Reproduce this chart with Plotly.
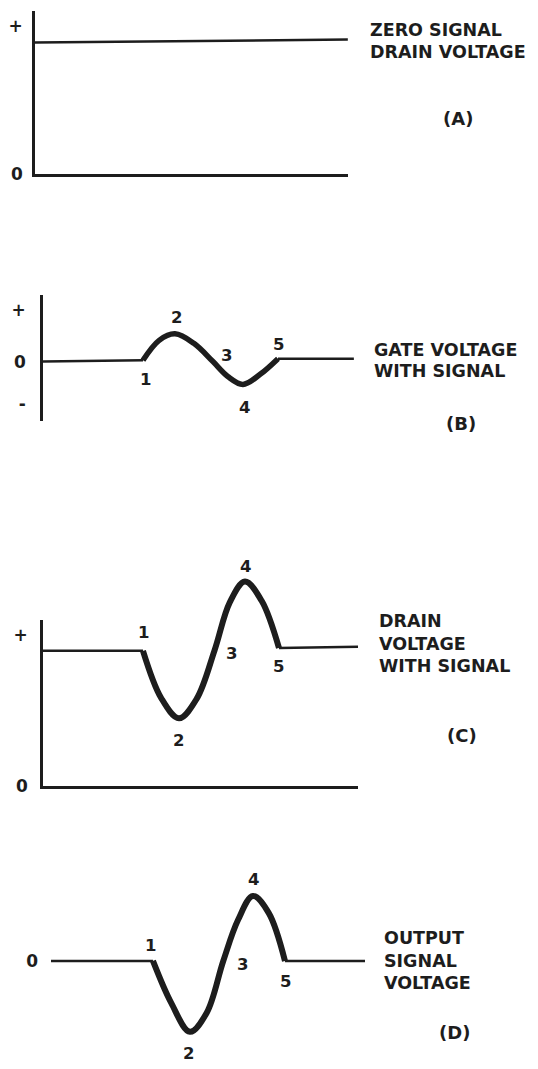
import plotly.graph_objects as go

# ---------------- data ----------------
# time in arbitrary units (0 = vertical axis), voltage in arbitrary units
# Panel A: zero-signal drain voltage
a_t = [0, 9.48]
a_drain = [9.93, 10.15]

# Panel B: gate voltage with signal (points 1, 1.5, 2, 2.5, 3, 3.5, 4, 4.5, 5)
b_in_t = [0, 3.03]
b_in_v = [0.0, 0.1]
b_sig_t = [3.03, 3.52, 4.0, 4.58, 5.15, 5.6, 6.06, 6.59, 7.12]
b_sig_v = [0.1, 1.6, 2.09, 1.36, 0.0, -1.12, -1.72, -0.94, 0.22]
b_out_t = [7.12, 9.42]
b_out_v = [0.22, 0.22]

# Panel C: drain voltage with signal
c_in_t = [0, 3.03]
c_in_v = [10.15, 10.15]
c_sig_t = [3.03, 3.58, 4.12, 4.66, 5.2, 5.66, 6.12, 6.63, 7.15]
c_sig_v = [10.15, 6.6, 5.07, 6.55, 10.2, 13.8, 15.37, 13.9, 10.37]
c_out_t = [7.15, 9.55]
c_out_v = [10.37, 10.45]

# Panel D: output signal voltage
d_in_t = [0, 3.09]
d_in_v = [0, 0]
d_sig_t = [3.09, 3.65, 4.21, 4.72, 5.22, 5.67, 6.12, 6.6, 7.09]
d_sig_v = [0, -3.2, -5.34, -3.9, 0, 3.1, 4.89, 3.6, 0]
d_out_t = [7.09, 9.52]
d_out_v = [0, 0]

# tick labels
a_ticks, a_ticktext = [0, 11.2], ["0", "+"]
b_ticks, b_ticktext = [3.9, 0, -3.2], ["+", "0", "-"]
c_ticks, c_ticktext = [0, 11.34], ["0", "+"]
d_ticks, d_ticktext = [0], ["0"]

point_labels = ["1", "2", "3", "4", "5"]

# ---------------- layout helpers ----------------
W, H = 538, 1069
INK = "#1d1d1d"
FONT = "DejaVu Sans"


def xdom(px0, px1):
    return [px0 / W, px1 / W]


def ydom(py_top, py_bot):
    return [1 - py_bot / H, 1 - py_top / H]


def px_to_paper(px, py):
    return px / W, 1 - py / H


fig = go.Figure()


def add_line(t, v, ax, width, spline=False):
    fig.add_trace(go.Scatter(
        x=t, y=v, mode="lines", xaxis="x" + ax, yaxis="y" + ax,
        line=dict(color=INK, width=width, shape="spline" if spline else "linear",
                  smoothing=1.0),
        hoverinfo="skip", showlegend=False))


THIN = 2.5
# Panel A
add_line(a_t, a_drain, "", THIN)
# Panel B
add_line(b_in_t, b_in_v, "2", THIN)
add_line(b_sig_t, b_sig_v, "2", 5.5, spline=True)
add_line(b_out_t, b_out_v, "2", THIN)
# Panel C: flat parts on the framed axes, the swing on a taller invisible
# plot area with the same scale (so the peak is not clipped)
add_line(c_in_t, c_in_v, "3", THIN)
add_line(c_sig_t, c_sig_v, "5", 6, spline=True)
add_line(c_out_t, c_out_v, "3", THIN)
# Panel D
add_line(d_in_t, d_in_v, "4", THIN)
add_line(d_sig_t, d_sig_v, "4", 6, spline=True)
add_line(d_out_t, d_out_v, "4", THIN)

SCALE = 13.4  # px per voltage unit (shared)
TSCALE = 33.0  # px per time unit (shared)


def xaxis_cfg(px0, px1, showline):
    return dict(domain=xdom(px0, px1), range=[0, (px1 - px0) / TSCALE],
                showline=showline, linecolor=INK, linewidth=THIN,
                showgrid=False, zeroline=False, showticklabels=False,
                ticks="", fixedrange=True)


def yaxis_cfg(py_top, py_bot, py_zero, showline, tickvals, ticktext, standoff):
    return dict(domain=ydom(py_top, py_bot),
                range=[-(py_bot - py_zero) / SCALE, (py_zero - py_top) / SCALE],
                showline=showline, linecolor=INK, linewidth=THIN,
                showgrid=False, zeroline=False, ticks="",
                tickvals=tickvals, ticktext=ticktext,
                tickfont=dict(family=FONT, size=17, color=INK, weight="bold"),
                ticklabelstandoff=standoff, fixedrange=True)


fig.update_layout(
    width=W, height=H, margin=dict(l=0, r=0, t=0, b=0),
    paper_bgcolor="white", plot_bgcolor="rgba(0,0,0,0)",
    xaxis=xaxis_cfg(35, 348, True),
    yaxis=yaxis_cfg(11, 176, 176, True, a_ticks, a_ticktext, 6),
    xaxis2=dict(xaxis_cfg(43, 354, False), visible=False),
    yaxis2=yaxis_cfg(298, 425, 365, True, b_ticks, b_ticktext, 11),
    xaxis3=xaxis_cfg(43, 358, True),
    yaxis3=yaxis_cfg(626, 793, 793, True, c_ticks, c_ticktext, 9),
    xaxis4=dict(xaxis_cfg(51, 365, False), visible=False),
    yaxis4=yaxis_cfg(880, 1060, 970, False, d_ticks, d_ticktext, 12),
    xaxis5=dict(xaxis_cfg(43, 358, False), visible=False),
    yaxis5=dict(yaxis_cfg(560, 793, 793, False, [], [], 0), visible=False),
)
# anchor axes
for i in ["", "2", "3", "4", "5"]:
    fig.layout["yaxis" + i].anchor = "x" + i
    fig.layout["xaxis" + i].anchor = "y" + i

annotations = []


def text(s, px, py, size=17.5, xanchor="left"):
    x, y = px_to_paper(px, py)
    annotations.append(dict(text=s, x=x, y=y, xref="paper", yref="paper",
                            xanchor=xanchor, yanchor="middle", showarrow=False,
                            font=dict(family=FONT, size=size, color=INK, weight="bold")))


# right-hand captions
caption_lines = {
    "A": (["ZERO SIGNAL", "DRAIN VOLTAGE"], 368, [30, 52], (458, 120)),
    "B": (["GATE VOLTAGE", "WITH SIGNAL"], 372, [353, 374], (461, 427)),
    "C": (["DRAIN", "VOLTAGE", "WITH SIGNAL"], 377, [627, 650, 672], (462, 742)),
    "D": (["OUTPUT", "SIGNAL", "VOLTAGE"], 382, [947, 970, 992], (454, 1042)),
}
for tag, (lines, lx, ys, (tx, ty)) in caption_lines.items():
    for s, y in zip(lines, ys):
        text(s, lx, y)
    text("(" + tag + ")", tx, ty, size=18, xanchor="center")

# point number labels
label_pos = {
    "B": [(145, 383), (176, 321), (226, 359), (244, 411), (278, 348)],
    "C": [(143, 638), (178, 747), (231, 660), (245, 572), (278, 673)],
    "D": [(150, 954), (188, 1063), (242, 974), (253, 888), (285, 991)],
}
for tag, pos in label_pos.items():
    for lab, (px, py) in zip(point_labels, pos):
        text(lab, px, py, size=16.5, xanchor="center")

fig.update_layout(annotations=annotations)

page_fix = (
    "var s=document.createElement('style');"
    "s.textContent='html,body{margin:0;padding:0;overflow:hidden;height:1069px;}'"
    "+'body>div{line-height:0;height:1069px;overflow:hidden;}';"
    "document.head.appendChild(s);"
    "var g=document.getElementById('{plot_id}');g.style.display='block';"
)
fig.write_html("out.html", config={"displayModeBar": False}, post_script=page_fix)
